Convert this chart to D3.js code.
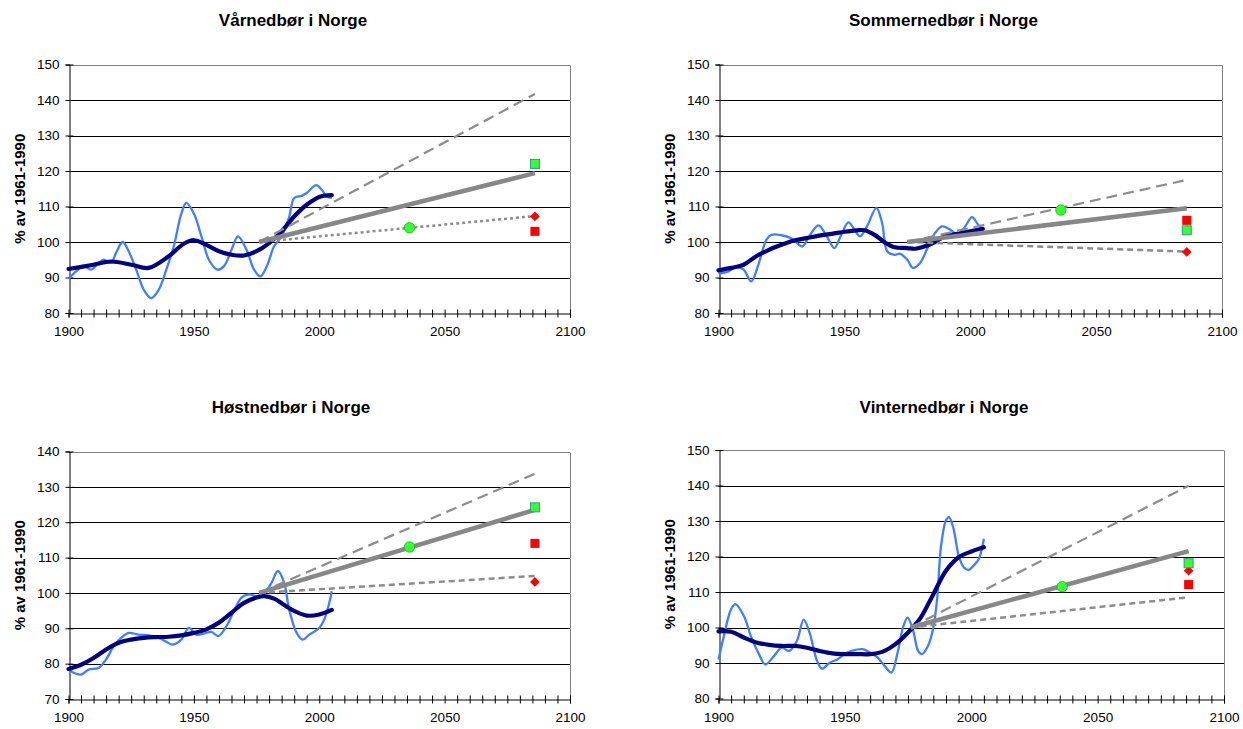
<!DOCTYPE html>
<html>
<head>
<meta charset="utf-8">
<script src="https://cdn.jsdelivr.net/npm/d3@7"></script>
<style>
  html, body { margin: 0; padding: 0; background: #fff; }
  svg { display: block; font-family: "Liberation Sans", Arial, sans-serif; }
</style>
</head>
<body>
<svg id="chart" width="1243" height="729"></svg>
<script>
// ---------------- DATA ----------------
const titles = ["Vårnedbør i Norge", "Sommernedbør i Norge", "Høstnedbør i Norge", "Vinternedbør i Norge"];
const yAxisLabel = "% av 1961-1990";
const xTickLabels = [1900, 1950, 2000, 2050, 2100];
const yDomains = [[80, 150], [80, 150], [70, 140], [80, 150]];

// Spring
const springObserved = [[1900,89.6],[1903,91.7],[1906,93.2],[1909,92.2],[1912,94],[1914,95],[1917,94.2],[1919,97],[1921.6,100],[1924,97.4],[1927,92.2],[1930,86.6],[1933,84.2],[1936,86.6],[1939,92.2],[1942,98.8],[1945,108],[1947,111],[1950,108],[1953,101.6],[1956,95],[1959.4,92.2],[1962,93.2],[1965,97.8],[1967.6,101.6],[1971,97.8],[1974,92.2],[1976.5,90.3],[1979,93],[1982,98.8],[1985,101.6],[1988,107],[1990,112.4],[1993,113],[1995,113.8],[1998.8,116],[2001,114.7],[2003,112.8],[2005,112.4]];
const springSmooth = [[1900,92.4],[1910,93.6],[1917,94.5],[1925,93.6],[1932,92.7],[1940,96],[1946,99.5],[1950,100.5],[1955,99.2],[1960,97.4],[1965,96.4],[1970,96.2],[1975,97.4],[1980,99.7],[1985,103],[1990,107.2],[1995,110.5],[2000,112.7],[2005,113.2]];
const springTrend = [[1976,100],[2086,119.4]];
const springUpper = [[1976,100],[2086,141.7]];
const springLower = [[1976,100],[2086,107.3]];
const springCircle = [2036,104];
const springGreenSquare = [2086,122];
const springRedSquare = [2086,103];
const springRedDiamond = [2086,107.2];

// Summer
const summerObserved = [[1900,91.1],[1904,91.7],[1907,93],[1910,92.2],[1913,88.9],[1916,94],[1919,100.6],[1921,102],[1925,101.9],[1929,101],[1933.3,98.8],[1936,101.6],[1939.7,104.7],[1943,101.6],[1946,98.3],[1948.5,101.6],[1951.6,105.5],[1954,103.5],[1956.2,101.6],[1959,104.4],[1962.7,109.6],[1965,105.3],[1967,97.4],[1970,96.4],[1972,96.7],[1975,95],[1977.2,92.7],[1980,94],[1983,98.3],[1986,102.5],[1988.8,104.4],[1992,103.5],[1995,102],[1998,104.4],[2000.7,107],[2003,105],[2005,103.5]];
const summerSmooth = [[1900,92],[1905,92.7],[1910,93.6],[1915,96],[1920,97.8],[1925,99.2],[1930,100.4],[1935,101.1],[1940,101.8],[1945,102.3],[1950,102.9],[1955,103.3],[1958,103.3],[1962,102],[1966,99.9],[1970,98.5],[1975,98.3],[1978,98.1],[1982,98.8],[1986,100],[1990,101.6],[1995,102.3],[2000,103],[2005,103.7]];
const summerTrend = [[1975,100],[2086,109.5]];
const summerUpper = [[1975,100],[2086,117.5]];
const summerLower = [[1975,100],[2086,97.3]];
const summerCircle = [2036,109];
const summerGreenSquare = [2086,103.3];
const summerRedSquare = [2086,106.1];
const summerRedDiamond = [2086,97.2];

// Autumn
const autumnObserved = [[1900,78.5],[1902,77.4],[1905,76.9],[1908,78.3],[1912,78.8],[1915,81.2],[1918,84.9],[1921,87.3],[1924,88.7],[1928,88.2],[1932,88],[1936,87.3],[1939,86.2],[1941.5,85.4],[1945,86.8],[1948,90.1],[1951,88.2],[1954,88.5],[1957,89],[1959.7,87.8],[1963,90.6],[1966,94.9],[1969,98.7],[1972,99.6],[1975,99.1],[1978,99.9],[1981,102.9],[1983.5,106.2],[1986,102.9],[1988,95.3],[1991,88.7],[1993.4,86.8],[1996,88.2],[2000,90.1],[2002,92.5],[2004,97.2],[2005,100.5]];
const autumnSmooth = [[1900,78.5],[1905,79.7],[1910,81.6],[1915,84],[1920,85.9],[1925,86.8],[1930,87.3],[1935,87.5],[1940,87.6],[1945,88],[1950,88.7],[1955,89.7],[1960,91.6],[1965,94.4],[1970,97.2],[1975,98.7],[1978,99.1],[1982,98.4],[1986,96.6],[1990,94.9],[1995,93.6],[2000,93.9],[2005,95.2]];
const autumnTrend = [[1976,100],[2086,123.5]];
const autumnUpper = [[1976,100],[2086,133.7]];
const autumnLower = [[1976,100],[2086,104.8]];
const autumnCircle = [2036,113];
const autumnGreenSquare = [2086,124.2];
const autumnRedSquare = [2086,114];
const autumnRedDiamond = [2086,103.1];

// Winter
const winterObserved = [[1900,91],[1902,97.2],[1905,105.2],[1906.7,106.6],[1910,103.3],[1913,97.2],[1916,92.5],[1918.5,89.6],[1922,92],[1925,94.3],[1928,93.4],[1931,96.2],[1933.7,102.2],[1936,98.6],[1939,90.6],[1941,88.4],[1944,90.1],[1947,91],[1950,92.6],[1953,93.5],[1957,93.9],[1960,92.9],[1963,91.5],[1966,88.9],[1968.4,87.3],[1971,93.4],[1973,100],[1974.8,102.8],[1977,99.1],[1979,93.4],[1980.5,92.5],[1983,95],[1985,100],[1986.5,108],[1988,122.6],[1990,130.2],[1991.2,131.1],[1993,127.8],[1995,120.3],[1997,117],[1999,116.2],[2001,117.5],[2003,119.3],[2005,125]];
const winterSmooth = [[1900,98.9],[1905,98.8],[1910,97.2],[1915,95.8],[1920,95.1],[1925,94.8],[1930,94.8],[1935,94.3],[1940,93.4],[1945,92.7],[1950,92.5],[1955,92.5],[1960,92.5],[1965,93.2],[1970,95.3],[1975,98.6],[1980,102.8],[1985,109.4],[1990,116],[1995,119.8],[2000,121.4],[2005,122.6]];
const winterTrend = [[1976,100],[2086,121.5]];
const winterUpper = [[1976,100],[2086,139.9]];
const winterLower = [[1976,100],[2086,108.5]];
const winterCircle = [2036,111.5];
const winterGreenSquare = [2086,118.1];
const winterRedSquare = [2086,112.1];
const winterRedDiamond = [2086,116];

// ---------------- LAYOUT ----------------
const panels = [
  {title: titles[0], box: {l: 68.5, r: 570, t: 64.5, b: 313}, dom: yDomains[0], titleX: 293, titleY: 26,
   obs: springObserved, smooth: springSmooth, trend: springTrend, upper: springUpper, lower: springLower, lowerDash: "3,3",
   circle: springCircle, gsq: springGreenSquare, rsq: springRedSquare, rdm: springRedDiamond},
  {title: titles[1], box: {l: 718.5, r: 1222, t: 64.5, b: 313}, dom: yDomains[1], titleX: 943.5, titleY: 26,
   obs: summerObserved, smooth: summerSmooth, trend: summerTrend, upper: summerUpper, lower: summerLower, lowerDash: "6,4",
   circle: summerCircle, gsq: summerGreenSquare, rsq: summerRedSquare, rdm: summerRedDiamond},
  {title: titles[2], box: {l: 68.5, r: 570, t: 451.5, b: 699}, dom: yDomains[2], titleX: 291, titleY: 413,
   obs: autumnObserved, smooth: autumnSmooth, trend: autumnTrend, upper: autumnUpper, lower: autumnLower, lowerDash: "6,4",
   circle: autumnCircle, gsq: autumnGreenSquare, rsq: autumnRedSquare, rdm: autumnRedDiamond},
  {title: titles[3], box: {l: 718.5, r: 1224, t: 450, b: 698.5}, dom: yDomains[3], titleX: 944, titleY: 413,
   obs: winterObserved, smooth: winterSmooth, trend: winterTrend, upper: winterUpper, lower: winterLower, lowerDash: "6,4",
   circle: winterCircle, gsq: winterGreenSquare, rsq: winterRedSquare, rdm: winterRedDiamond}
];

const svg = d3.select("#chart");

panels.forEach(p => {
  const B = p.box;
  const x = d3.scaleLinear().domain([1900, 2100]).range([B.l, B.r]);
  const y = d3.scaleLinear().domain(p.dom).range([B.b, B.t]);
  const g = svg.append("g");

  // title
  g.append("text").attr("x", p.titleX).attr("y", p.titleY)
    .attr("text-anchor", "middle").attr("font-size", "17px").attr("font-weight", "bold")
    .text(p.title);

  // y label
  g.append("text")
    .attr("transform", `translate(${B.l - 44},${(B.t + B.b) / 2}) rotate(-90)`)
    .attr("text-anchor", "middle").attr("font-size", "15px").attr("font-weight", "bold")
    .text(yAxisLabel);

  // gridlines
  const yTicks = d3.range(p.dom[0], p.dom[1] + 1, 10);
  g.append("g").selectAll("line").data(yTicks.slice(1)).join("line")
    .attr("x1", B.l).attr("x2", B.r)
    .attr("y1", d => Math.round(y(d)) + 0.5).attr("y2", d => Math.round(y(d)) + 0.5)
    .attr("stroke", d => d === p.dom[1] ? "#808080" : "#000").attr("stroke-width", 1);

  // right border
  g.append("line").attr("x1", Math.round(B.r) + 0.5).attr("x2", Math.round(B.r) + 0.5)
    .attr("y1", Math.round(y(p.dom[1])) + 0.5).attr("y2", Math.round(B.b) + 0.5)
    .attr("stroke", "#808080");

  // y axis
  const yAxis = d3.axisLeft(y).tickValues(yTicks).tickSize(4).tickPadding(6).tickFormat(d3.format("d"));
  const ya = g.append("g").attr("transform", `translate(${Math.round(B.l) + 0.5},0)`).call(yAxis);
  ya.select(".domain").attr("stroke", "#000");
  ya.selectAll(".tick line").attr("x2", 4).attr("x1", -4).attr("stroke", "#000");
  ya.selectAll(".tick text").attr("font-size", "13.5px").attr("font-family", "Liberation Sans, Arial, sans-serif").attr("fill", "#000");

  // x axis
  const xAxis = d3.axisBottom(x).tickValues(d3.range(1900, 2101, 5)).tickSize(4).tickPadding(9)
    .tickFormat(d => xTickLabels.includes(d) ? d : "");
  const xa = g.append("g").attr("transform", `translate(0,${Math.round(B.b) + 0.5})`).call(xAxis);
  xa.select(".domain").attr("stroke", "#000");
  xa.selectAll(".tick line").attr("y1", -4).attr("y2", 4).attr("stroke", "#000");
  xa.selectAll(".tick text").attr("font-size", "13.5px").attr("font-family", "Liberation Sans, Arial, sans-serif").attr("fill", "#000");

  const line = d3.line().x(d => x(d[0])).y(d => y(d[1]));
  const curve = d3.line().x(d => x(d[0])).y(d => y(d[1])).curve(d3.curveCatmullRom.alpha(0.5));

  // observed (light blue)
  g.append("path").datum(p.obs).attr("d", curve).attr("fill", "none")
    .attr("stroke", "#3f7fff").attr("stroke-width", 2.3);
  // smoothed (navy)
  g.append("path").datum(p.smooth).attr("d", curve).attr("fill", "none")
    .attr("stroke", "#000080").attr("stroke-width", 4.2).attr("stroke-linecap", "round");

  // projections
  g.append("path").datum(p.upper).attr("d", line).attr("fill", "none")
    .attr("stroke", "#8c8c8c").attr("stroke-width", 2.2).attr("stroke-dasharray", "11,6");
  g.append("path").datum(p.lower).attr("d", line).attr("fill", "none")
    .attr("stroke", "#8c8c8c").attr("stroke-width", 2.5).attr("stroke-dasharray", p.lowerDash);
  g.append("path").datum(p.trend).attr("d", line).attr("fill", "none")
    .attr("stroke", "#878787").attr("stroke-width", 4.5);

  // markers
  g.append("circle").attr("cx", x(p.circle[0])).attr("cy", y(p.circle[1])).attr("r", 5.2)
    .attr("fill", "#33ff33").attr("stroke", "#22aa22").attr("stroke-width", 0.8);
  const sq = 9;
  g.append("rect").attr("x", x(p.rsq[0]) - sq / 2).attr("y", y(p.rsq[1]) - sq / 2)
    .attr("width", sq).attr("height", sq).attr("fill", "#ff0000");
  g.append("path").attr("d", d3.symbol(d3.symbolDiamond2, 60)())
    .attr("transform", `translate(${x(p.rdm[0])},${y(p.rdm[1])})`).attr("fill", "#ff0000");
  g.append("rect").attr("x", x(p.gsq[0]) - sq / 2).attr("y", y(p.gsq[1]) - sq / 2)
    .attr("width", sq).attr("height", sq).attr("fill", "#33ff33")
    .attr("stroke", "#339988").attr("stroke-width", 1);
});
</script>
</body>
</html>
